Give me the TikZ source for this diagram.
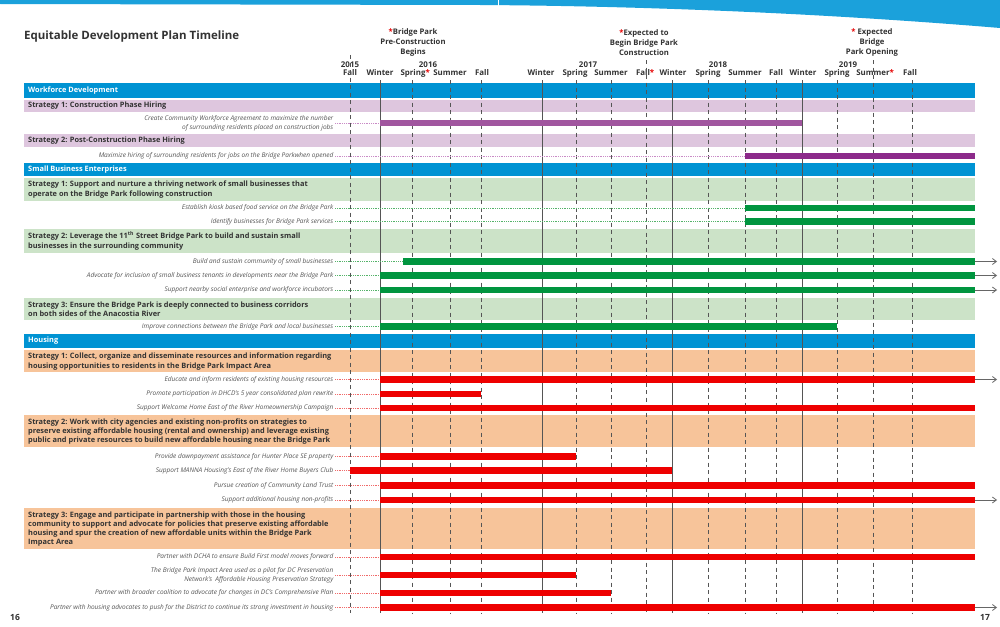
\documentclass[tikz,border=0pt]{standalone}
\usepackage{fontspec}
\setmainfont{Open Sans}
\usetikzlibrary{arrows.meta}
\definecolor{banner}{HTML}{1BA1DB}
\definecolor{secblue}{HTML}{0093D3}
\definecolor{purpband}{HTML}{DEC6DE}
\definecolor{greenband}{HTML}{CCE3C8}
\definecolor{orangeband}{HTML}{F7C49A}
\definecolor{purpA}{HTML}{A1569F}
\definecolor{purpB}{HTML}{8C2A8A}
\definecolor{purpdot}{HTML}{C98BC6}
\definecolor{greenbar}{HTML}{00953F}
\definecolor{greendot}{HTML}{55B36A}
\definecolor{redbar}{HTML}{EE0000}
\definecolor{reddot}{HTML}{F06A6A}
\definecolor{gridgray}{HTML}{555555}
\definecolor{txtdark}{HTML}{333333}
\definecolor{lblgray}{HTML}{555555}
\definecolor{arrowgray}{HTML}{666666}
\definecolor{starred}{HTML}{E60000}

\newcommand{\taskrow}[7]{%
  \node[lbl] (#1) at (335,#2) {#3};
  \coordinate (#1s) at (#4,#2);
  \coordinate (#1e) at (#5,#2);
  \draw[dotline,#7] (#1.east) -- (#1s);
  \fill[#6] ([yshift=3.2pt]#1s) rectangle ([yshift=-3.2pt]#1e);
}
\newcommand{\arrowrow}[2]{%
  \coordinate (#1a) at (997,#2);
  \draw[arrowline] (#1e) -- (#1a);
}
\newcommand{\rstar}{\rlap{\textcolor{starred}{*}}}

\begin{document}
\begin{tikzpicture}[x=1pt,y=-1pt,
  sectxt/.style={anchor=west, text=white, font=\fontsize{7.4}{8}\selectfont\bfseries, inner sep=0pt},
  strtxt/.style={anchor=west, align=left, text=txtdark, font=\fontsize{7.4}{9.2}\selectfont\bfseries, inner sep=0pt},
  lbl/.style={anchor=east, align=right, text=lblgray, font=\fontsize{6.5}{8.6}\selectfont\itshape, inner sep=1.5pt},
  hdr/.style={text=txtdark, font=\fontsize{7.9}{8}\selectfont\bfseries, inner sep=0pt},
  note/.style={text=txtdark, font=\fontsize{7.7}{10}\selectfont\bfseries, align=center, inner sep=0pt},
  dgrid/.style={gridgray, line width=0.6pt, dash pattern=on 4pt off 3.5pt},
  sgrid/.style={gridgray, line width=0.6pt},
  dotline/.style={line width=0.7pt, dash pattern=on 0.9pt off 0.9pt},
  arrowline/.style={arrowgray, line width=0.8pt, -{Straight Barb[length=4pt,width=6pt]}}
]
\useasboundingbox (0,0) rectangle (1000,626);
\fill[white] (0,0) rectangle (1000,626);

% top banner
\fill[banner] (0,0) -- (1000,0) -- (1000,28) .. controls (820,13) and (640,6) .. (480,5) -- (0,4) -- cycle;
\draw[white, line width=0.8pt] (498,0) -- (498,6);

% title
\node[anchor=west, text=txtdark, font=\fontsize{11.5}{12}\selectfont\bfseries, inner sep=0pt] (title) at (24,37) {Equitable Development Plan Timeline};

% annotations
\node[note] (n1) at (413,43) {\textcolor{starred}{*}Bridge Park\\Pre-Construction\\Begins};
\node[note] (n2) at (644,43) {\textcolor{starred}{*}Expected to\\Begin Bridge Park\\Construction};
\node[note] (n3) at (872,43) {\textcolor{starred}{*} Expected\\Bridge\\Park Opening};

% years
\node[hdr] (y15) at (350,65) {2015};
\node[hdr] (y16) at (428,65) {2016};
\node[hdr] (y17) at (588,65) {2017};
\node[hdr] (y18) at (718,65) {2018};
\node[hdr] (y19) at (848,65) {2019};
% seasons
\node[hdr] (s1) at (350,73) {Fall};
\node[hdr] (s2) at (380,73) {Winter};
\node[hdr] (s3) at (413,73) {Spring\rstar};
\node[hdr] (s4) at (450,73) {Summer};
\node[hdr] (s5) at (482,73) {Fall};
\node[hdr] (s6) at (541,73) {Winter};
\node[hdr] (s7) at (575,73) {Spring};
\node[hdr] (s8) at (611,73) {Summer};
\node[hdr] (s9) at (643,73) {Fall\rstar};
\node[hdr] (s10) at (673,73) {Winter};
\node[hdr] (s11) at (708,73) {Spring};
\node[hdr] (s12) at (745,73) {Summer};
\node[hdr] (s13) at (776,73) {Fall};
\node[hdr] (s14) at (803,73) {Winter};
\node[hdr] (s15) at (837,73) {Spring};
\node[hdr] (s16) at (873,73) {Summer\rstar};
\node[hdr] (s17) at (910,73) {Fall};

% bands
\fill[secblue] (24,83) rectangle (975,98);
\fill[purpband] (24,100) rectangle (975,112);
\fill[purpband] (24,134) rectangle (975,147);
\fill[secblue] (24,163) rectangle (975,176);
\fill[greenband] (24,178) rectangle (975,201);
\fill[greenband] (24,229) rectangle (975,253);
\fill[greenband] (24,298) rectangle (975,320);
\fill[secblue] (24,334) rectangle (975,348);
\fill[orangeband] (24,350) rectangle (975,372);
\fill[orangeband] (24,415) rectangle (975,447);
\fill[orangeband] (24,508) rectangle (975,549);

% grid lines
\draw[dgrid] (350,55) -- (350,613);
\draw[dgrid] (646,60) -- (646,613);
\draw[dgrid] (873,60) -- (873,613);
\foreach \x in {412,450,481,576,611,708,745,776,837,912}
  \draw[dgrid] (\x,80) -- (\x,613);
\foreach \x in {380,542,672,802}
  \draw[sgrid] (\x,80) -- (\x,613);

% band texts
\node[sectxt] (wd) at (28,90.5) {Workforce Development};
\node[strtxt] (wd1) at (28,106) {Strategy 1: Construction Phase Hiring};
\node[strtxt] (wd2) at (28,140.5) {Strategy 2: Post-Construction Phase Hiring};
\node[sectxt] (sbe) at (28,169.5) {Small Business Enterprises};
\node[strtxt] (sb1) at (28,189.5) {Strategy 1: Support and nurture a thriving network of small businesses that\\operate on the Bridge Park following construction};
\node[strtxt] (sb2) at (28,241) {Strategy 2: Leverage the 11\textsuperscript{th} Street Bridge Park to build and sustain small\\businesses in the surrounding community};
\node[strtxt] (sb3) at (28,309) {Strategy 3: Ensure the Bridge Park is deeply connected to business corridors\\on both sides of the Anacostia River};
\node[sectxt] (hs) at (28,341) {Housing};
\node[strtxt] (hs1) at (28,361.5) {Strategy 1: Collect, organize and disseminate resources and information regarding\\housing opportunities to residents in the Bridge Park Impact Area};
\node[strtxt] (hs2) at (28,431.5) {Strategy 2: Work with city agencies and existing non-profits on strategies to\\preserve existing affordable housing (rental and ownership) and leverage existing\\public and private resources to build new affordable housing near the Bridge Park};
\node[strtxt] (hs3) at (28,529) {Strategy 3: Engage and participate in partnership with those in the housing\\community to support and advocate for policies that preserve existing affordable\\housing and spur the creation of new affordable units within the Bridge Park\\Impact Area};

% tasks: workforce
\taskrow{t1}{123}{Create Community Workforce Agreement to maximize the number\\of surrounding residents placed on construction jobs}{380}{802}{purpA}{purpdot}
\taskrow{t2}{156}{Maximize hiring of surrounding residents for jobs on the Bridge Parkwhen opened}{745}{975}{purpB}{purpdot}
% small business
\taskrow{t3}{208}{Establish kiosk based food service on the Bridge Park}{745}{975}{greenbar}{greendot}
\taskrow{t4}{221.5}{Identify businesses for Bridge Park services}{745}{975}{greenbar}{greendot}
\taskrow{t5}{261.5}{Build and sustain community of small businesses}{403}{975}{greenbar}{greendot}
\arrowrow{t5}{261.5}
\taskrow{t6}{275.5}{Advocate for inclusion of small business tenants in developments near the Bridge Park}{380}{975}{greenbar}{greendot}
\arrowrow{t6}{275.5}
\taskrow{t7}{290}{Support nearby social enterprise and workforce incubators}{380}{975}{greenbar}{greendot}
\arrowrow{t7}{290}
\taskrow{t8}{326.5}{Improve connections between the Bridge Park and local businesses}{380}{837}{greenbar}{greendot}
% housing
\taskrow{t9}{379.5}{Educate and inform residents of existing housing resources}{380}{975}{redbar}{reddot}
\arrowrow{t9}{379.5}
\taskrow{t10}{394}{Promote participation in DHCD’s 5 year consolidated plan rewrite}{380}{481}{redbar}{reddot}
\taskrow{t11}{408}{Support Welcome Home East of the River Homeownership Campaign}{380}{975}{redbar}{reddot}
\taskrow{t12}{456.5}{Provide downpayment assistance for Hunter Place SE property}{380}{576}{redbar}{reddot}
\taskrow{t13}{470.5}{Support MANNA Housing’s East of the River Home Buyers Club}{350}{672}{redbar}{reddot}
\taskrow{t14}{485.5}{Pursue creation of Community Land Trust}{380}{975}{redbar}{reddot}
\taskrow{t15}{500}{Support additional housing non-profits}{380}{975}{redbar}{reddot}
\arrowrow{t15}{500}
\taskrow{t16}{557}{Partner with DCHA to ensure Build First model moves forward}{380}{975}{redbar}{reddot}
\taskrow{t17}{575}{The Bridge Park Impact Area used as a pilot for DC Preservation\\Network’s\enspace Affordable Housing Preservation Strategy}{380}{576}{redbar}{reddot}
\taskrow{t18}{593}{Partner with broader coalition to advocate for changes in DC’s Comprehensive Plan}{380}{611}{redbar}{reddot}
\taskrow{t19}{607.5}{Partner with housing advocates to push for the District to continue its strong investment in housing}{380}{975}{redbar}{reddot}
\arrowrow{t19}{607.5}

% page numbers
\node[text=txtdark, font=\fontsize{8.5}{9}\selectfont\bfseries, inner sep=0pt] (p16) at (15,617) {16};
\node[text=txtdark, font=\fontsize{8.5}{9}\selectfont\bfseries, inner sep=0pt] (p17) at (985,617) {17};
\end{tikzpicture}
\end{document}
